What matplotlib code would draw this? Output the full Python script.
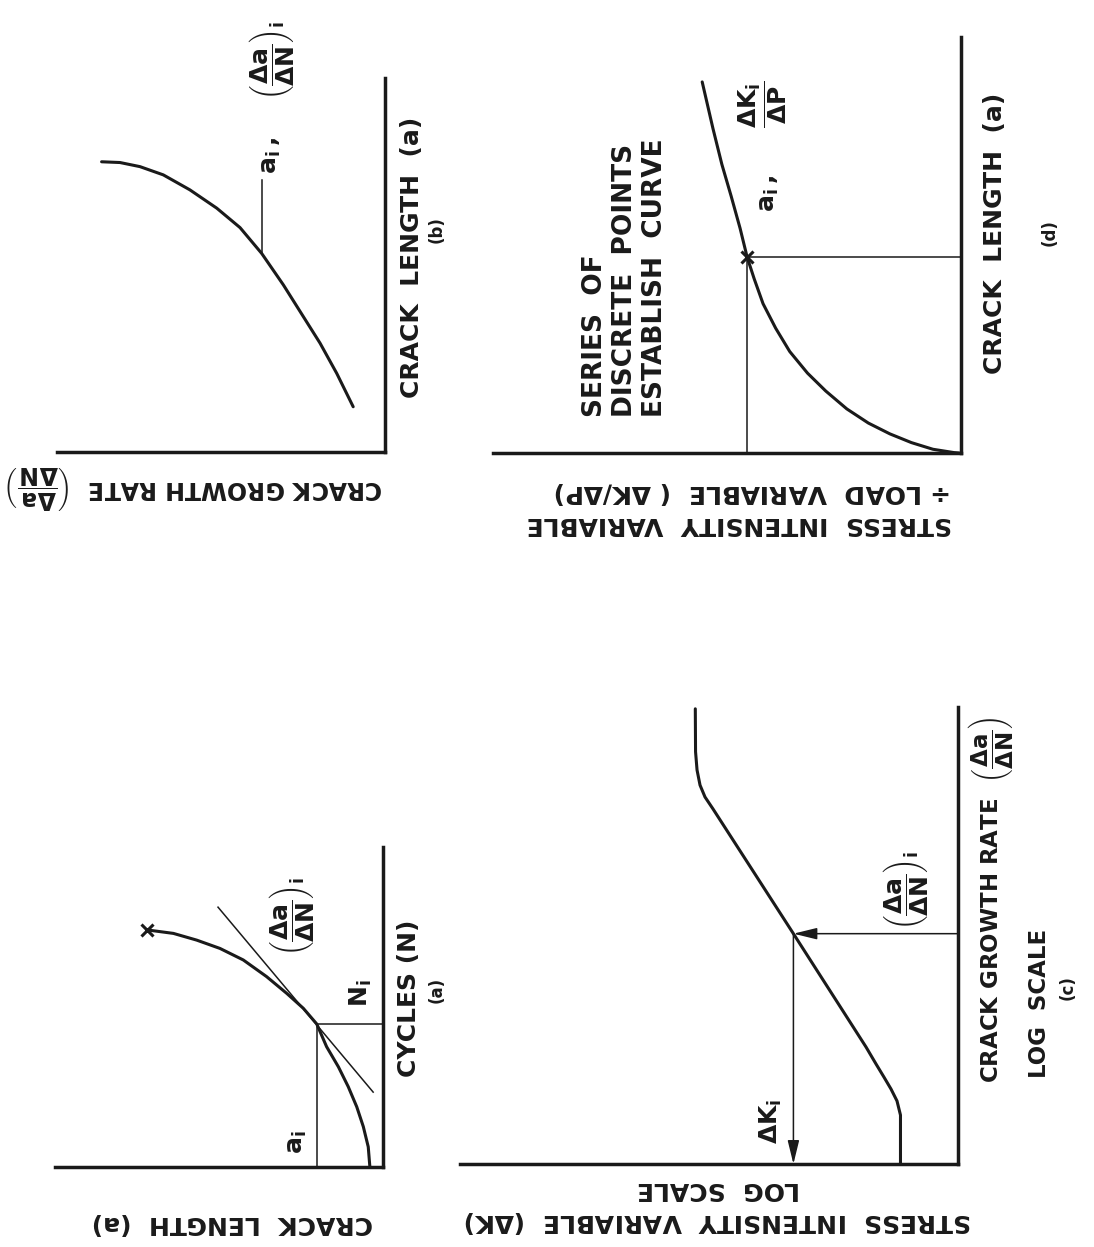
import matplotlib
matplotlib.use("Agg")
import matplotlib.pyplot as plt

W, H = 1094, 1247

# ---------------- data (normalised schematic units) ----------------
# (a) crack length a vs. cycles N
a_len = [0.040, 0.045, 0.060, 0.080, 0.106, 0.136, 0.172, 0.202, 0.243,
         0.294, 0.355, 0.426, 0.497, 0.568, 0.639, 0.720]
a_cyc = [0.000, 0.063, 0.126, 0.188, 0.251, 0.313, 0.376, 0.447, 0.496,
         0.543, 0.595, 0.647, 0.683, 0.709, 0.730, 0.741]
a_point = (0.202, 0.447)                # (a_i, N_i)
a_tangent_len = [0.030, 0.503]
a_tangent_cyc = [0.234, 0.812]

# (b) crack growth rate vs. crack length
b_rate = [0.097, 0.147, 0.198, 0.249, 0.310, 0.376, 0.442, 0.513, 0.595,
          0.676, 0.747, 0.808, 0.864]
b_len = [0.121, 0.210, 0.291, 0.362, 0.447, 0.531, 0.600, 0.652, 0.701,
         0.741, 0.763, 0.774, 0.776]
b_point = (0.376, 0.531)
b_leader_top = 0.727

# (c) stress intensity (log) vs. crack growth rate (log)
c_dk = [0.1155, 0.1155, 0.1225, 0.1345, 0.1486, 0.1647, 0.1847, 0.3305,
        0.492, 0.508, 0.518, 0.524, 0.527, 0.5275]
c_rate = [0.000, 0.107, 0.138, 0.164, 0.190, 0.219, 0.256, 0.504,
          0.777, 0.803, 0.829, 0.862, 0.902, 0.996]
c_point = (0.3305, 0.504)

# (d) normalised stress intensity dK/dP vs. crack length
d_kp = [0.004, 0.015, 0.060, 0.106, 0.152, 0.198, 0.244, 0.289, 0.328,
        0.366, 0.396, 0.423, 0.442, 0.457, 0.472, 0.491, 0.511, 0.530, 0.553]
d_len = [0.000, 0.001, 0.009, 0.025, 0.046, 0.072, 0.106, 0.149, 0.192,
         0.244, 0.300, 0.359, 0.419, 0.471, 0.540, 0.617, 0.694, 0.780, 0.892]
d_point = (0.457, 0.471)

# ---------------- style ----------------
plt.rcParams['font.family'] = ['DejaVu Sans']
plt.rcParams['font.weight'] = 'bold'
plt.rcParams['mathtext.fontset'] = 'custom'
plt.rcParams['mathtext.rm'] = 'DejaVu Sans:bold'
plt.rcParams['mathtext.it'] = 'DejaVu Sans:bold'
plt.rcParams['mathtext.bf'] = 'DejaVu Sans:bold'
plt.rcParams['mathtext.sf'] = 'DejaVu Sans:bold'
plt.rcParams['mathtext.default'] = 'rm'

INK = '#1a1a1a'
AXW = 2.5     # axis line width
CW = 2.2      # curve width
TW = 1.1      # thin construction lines
FS = 18
FS_FRAC = 18
FS_CAP = 12
NARROW = ['Liberation Sans Narrow', 'DejaVu Sans']

fig = plt.figure(figsize=(W / 100, H / 100), dpi=100)
fig.patch.set_facecolor('white')


def panel(x0, y0, x1, y1):
    ax = fig.add_axes([x0 / W, 1 - y1 / H, (x1 - x0) / W, (y1 - y0) / H])
    ax.set_xlim(1, 0)
    ax.set_ylim(0, 1)
    for s in ('top', 'left'):
        ax.spines[s].set_visible(False)
    for s in ('right', 'bottom'):
        ax.spines[s].set_linewidth(AXW)
        ax.spines[s].set_color(INK)
        ax.spines[s].set_capstyle('projecting')
    ax.set_xticks([])
    ax.set_yticks([])
    ax.patch.set_visible(False)
    return ax


def ftext(x, y, s, **kw):
    kw.setdefault('ha', 'center')
    kw.setdefault('va', 'center')
    kw.setdefault('fontsize', FS)
    kw.setdefault('color', INK)
    kw.setdefault('fontweight', 'bold')
    return fig.text(x / W, 1 - y / H, s, **kw)


frac_rate = r'$\left(\dfrac{\Delta a}{\Delta N}\right)$'
frac_rate_i = r'$\left(\dfrac{\Delta a}{\Delta N}\right)_i$'

# ---------------- (a) ----------------
ax = panel(55, 847, 383, 1167)
ax.plot(a_len, a_cyc, color=INK, lw=CW, clip_on=False, solid_capstyle='round')
ax.plot(a_len[-1], a_cyc[-1], marker='x', color=INK, ms=8, mew=2.2, clip_on=False)
ax.plot(a_tangent_len, a_tangent_cyc, color=INK, lw=TW, clip_on=False)
ax.plot([a_point[0], a_point[0]], [0, a_point[1]], color=INK, lw=TW)
ax.plot([0, a_point[0]], [a_point[1], a_point[1]], color=INK, lw=TW)

ftext(232, 1223, 'CRACK  LENGTH  (a)', rotation=180)
ftext(409, 998, 'CYCLES (N)', rotation=90)
ftext(437, 990, '(a)', rotation=90, fontsize=FS_CAP)
ftext(297, 1142, r'$a_i$', rotation=90)
ftext(361, 993, r'$N_i$', rotation=90)
ftext(292, 916, frac_rate_i, rotation=90, fontsize=FS_FRAC)

# ---------------- (b) ----------------
ax = panel(57, 78, 385, 452)
ax.plot(b_rate, b_len, color=INK, lw=CW, clip_on=False, solid_capstyle='round')
ax.plot([b_point[0], b_point[0]], [b_point[1], b_leader_top], color=INK, lw=TW)

ftext(383, 487, 'CRACK GROWTH RATE  ' + frac_rate, rotation=180, ha='right',
      fontsize=17)
ftext(412, 257, 'CRACK  LENGTH  (a)', rotation=90)
ftext(437, 230, '(b)', rotation=90, fontsize=FS_CAP)
ftext(271, 155, r'$a_i\,,$', rotation=90)
ftext(271, 60, frac_rate_i, rotation=90, fontsize=FS_FRAC)

# ---------------- (c) ----------------
ax = panel(460, 707, 958, 1164)
ax.plot(c_dk, c_rate, color=INK, lw=CW, clip_on=False, solid_capstyle='round')
arrow = dict(arrowstyle='-|>,head_length=0.9,head_width=0.22', color=INK,
             lw=TW, shrinkA=0, shrinkB=0, mutation_scale=16)
ax.annotate('', xy=(c_point[0], c_point[1]), xytext=(0, c_point[1]),
            arrowprops=arrow, annotation_clip=False)
ax.annotate('', xy=(c_point[0], 0), xytext=(c_point[0], c_point[1]),
            arrowprops=arrow, annotation_clip=False)

ftext(718, 1222, 'STRESS  INTENSITY  VARIABLE  ($\\Delta$K)', rotation=180)
ftext(718, 1189, 'LOG  SCALE', rotation=180)
ftext(991, 900, 'CRACK GROWTH RATE  ' + frac_rate, rotation=90,
      family=NARROW, fontsize=16.5)
ftext(1040, 1003, 'LOG  SCALE', rotation=90, family=NARROW, fontsize=16.5)
ftext(1068, 988, '(c)', rotation=90, fontsize=FS_CAP, family=NARROW)
ftext(905, 890, frac_rate_i, rotation=90, fontsize=FS_FRAC)
ftext(771, 1121, r'$\Delta K_i$', rotation=90)

# ---------------- (d) ----------------
ax = panel(493, 37, 961, 453)
ax.plot(d_kp, d_len, color=INK, lw=CW, clip_on=False, solid_capstyle='round')
ax.plot(d_point[0], d_point[1], marker='x', color=INK, ms=8, mew=2.2)
ax.plot([d_point[0], d_point[0]], [0, d_point[1]], color=INK, lw=TW)
ax.plot([0, d_point[0]], [d_point[1], d_point[1]], color=INK, lw=TW)

ftext(739, 508, 'STRESS  INTENSITY  VARIABLE\n\u00f7 LOAD  VARIABLE  ( $\\Delta$K/$\\Delta$P)',
      rotation=180, multialignment='left', linespacing=1.3)
ftext(995, 233, 'CRACK  LENGTH  (a)', rotation=90)
ftext(1050, 233, '(d)', rotation=90, fontsize=FS_CAP)
ftext(625, 417, 'SERIES  OF\nDISCRETE  POINTS\nESTABLISH  CURVE', rotation=90,
      va='bottom', multialignment='left', linespacing=1.2, fontsize=19)
ftext(769, 193, r'$a_i\,,$', rotation=90)
ftext(763, 104, r'$\dfrac{\Delta K_i}{\Delta P}$', rotation=90, fontsize=FS_FRAC)

fig.savefig('out.png', dpi=100, facecolor='white')
